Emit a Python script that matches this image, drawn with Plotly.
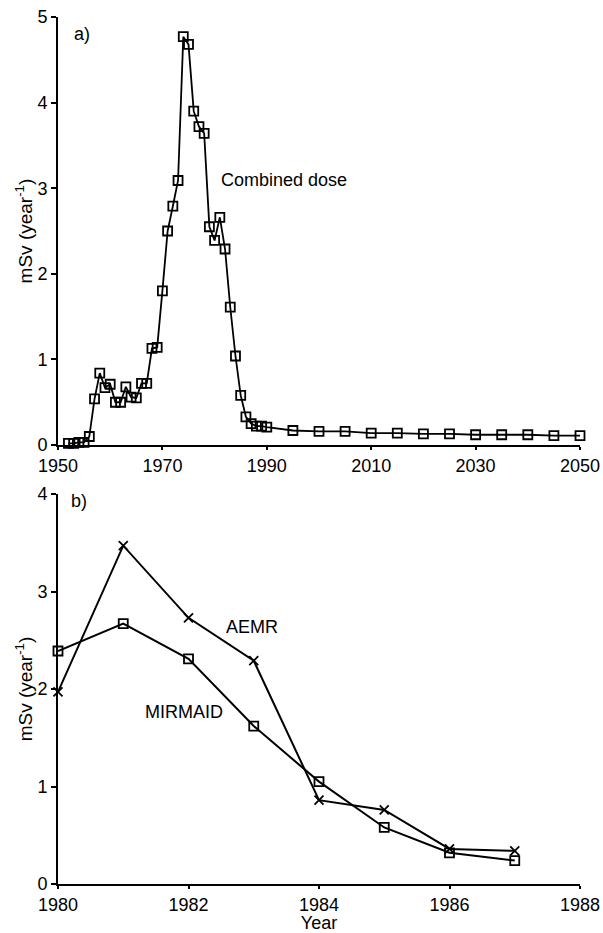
import plotly.graph_objects as go

# Panel a) combined dose
years_a = [1952, 1953, 1954, 1955, 1956, 1957, 1958, 1959, 1960, 1961, 1962, 1963,
           1964, 1965, 1966, 1967, 1968, 1969, 1970, 1971, 1972, 1973, 1974, 1975,
           1976, 1977, 1978, 1979, 1980, 1981, 1982, 1983, 1984, 1985, 1986, 1987,
           1988, 1989, 1990, 1995, 2000, 2005, 2010, 2015, 2020, 2025, 2030, 2035,
           2040, 2045, 2050]
combined = [0.02, 0.02, 0.03, 0.03, 0.10, 0.54, 0.84, 0.67, 0.71, 0.50, 0.50, 0.68,
            0.56, 0.55, 0.72, 0.72, 1.13, 1.14, 1.80, 2.50, 2.79, 3.09, 4.77, 4.68,
            3.90, 3.72, 3.64, 2.55, 2.39, 2.66, 2.29, 1.61, 1.04, 0.58, 0.33, 0.25,
            0.22, 0.22, 0.21, 0.17, 0.16, 0.16, 0.14, 0.14, 0.13, 0.13, 0.12, 0.12,
            0.12, 0.11, 0.11]

# Panel b) comparison
years_b = [1980, 1981, 1982, 1983, 1984, 1985, 1986, 1987]
aemr = [1.97, 3.47, 2.73, 2.29, 0.86, 0.76, 0.36, 0.34]
mirmaid = [2.39, 2.67, 2.31, 1.62, 1.05, 0.58, 0.32, 0.24]

ticks_a = [1950, 1970, 1990, 2010, 2030, 2050]
ticks_b = [1980, 1982, 1984, 1986, 1988]

FONT = "Liberation Sans, Arial, sans-serif"
fig = go.Figure()

fig.add_trace(go.Scatter(
    x=years_a, y=combined, mode="lines+markers", xaxis="x", yaxis="y",
    line=dict(color="black", width=1.8),
    marker=dict(symbol="square-open", size=9, color="black", line=dict(width=1.8)),
    cliponaxis=False, showlegend=False))

fig.add_trace(go.Scatter(
    x=years_b, y=aemr, mode="lines+markers", xaxis="x2", yaxis="y2",
    line=dict(color="black", width=2),
    marker=dict(symbol="x-thin-open", size=9, color="black", line=dict(width=1.8, color="black")),
    cliponaxis=False, showlegend=False))

fig.add_trace(go.Scatter(
    x=years_b, y=mirmaid, mode="lines+markers", xaxis="x2", yaxis="y2",
    line=dict(color="black", width=2),
    marker=dict(symbol="square-open", size=9, color="black", line=dict(width=1.8)),
    cliponaxis=False, showlegend=False))

axis_common = dict(showgrid=False, zeroline=False, showline=True, linecolor="black",
                   linewidth=2, ticks="outside", tickwidth=1.5,
                   tickcolor="black", automargin=False,
                   tickfont=dict(size=18, color="black", family=FONT))

ytitle = dict(text="mSv (year<sup>-1</sup>)", font=dict(size=19, color="black", family=FONT),
              standoff=0)

fig.update_layout(
    template="none",
    width=603, height=933,
    margin=dict(l=58, r=23, t=17, b=49),
    paper_bgcolor="white", plot_bgcolor="white",
    font=dict(family=FONT, color="black", size=18),
    xaxis=dict(domain=[0, 1], anchor="y", range=[1950, 2050], tickvals=ticks_a,
               ticklen=3, **axis_common),
    yaxis=dict(domain=[0.5063, 1], anchor="x", range=[0, 5], dtick=1, title=ytitle,
               ticklen=5, **axis_common),
    xaxis2=dict(domain=[0, 1], anchor="y2", range=[1980, 1988], tickvals=ticks_b, ticklen=3,
                title=dict(text="Year", font=dict(size=18, color="black", family=FONT), standoff=5),
                **axis_common),
    yaxis2=dict(domain=[0, 0.4498], anchor="x2", range=[0, 4], dtick=1, title=ytitle,
                ticklen=5, **axis_common),
    annotations=[
        dict(text="a)", x=1954.6, y=4.8, xref="x", yref="y", showarrow=False,
             font=dict(size=18, color="black", family=FONT)),
        dict(text="Combined dose", x=1980.8, y=3.1, xref="x", yref="y", showarrow=False,
             xanchor="left", font=dict(size=18, color="black", family=FONT)),
        dict(text="b)", x=1980.32, y=3.93, xref="x2", yref="y2", showarrow=False,
             font=dict(size=18, color="black", family=FONT)),
        dict(text="AEMR", x=1982.97, y=2.64, xref="x2", yref="y2", showarrow=False,
             font=dict(size=18, color="black", family=FONT)),
        dict(text="MIRMAID", x=1981.93, y=1.76, xref="x2", yref="y2", showarrow=False,
             font=dict(size=18, color="black", family=FONT)),
    ],
)

fig.write_html("out.html", config={"displayModeBar": False},
               post_script="document.body.style.margin='0';document.body.style.overflow='hidden';")
